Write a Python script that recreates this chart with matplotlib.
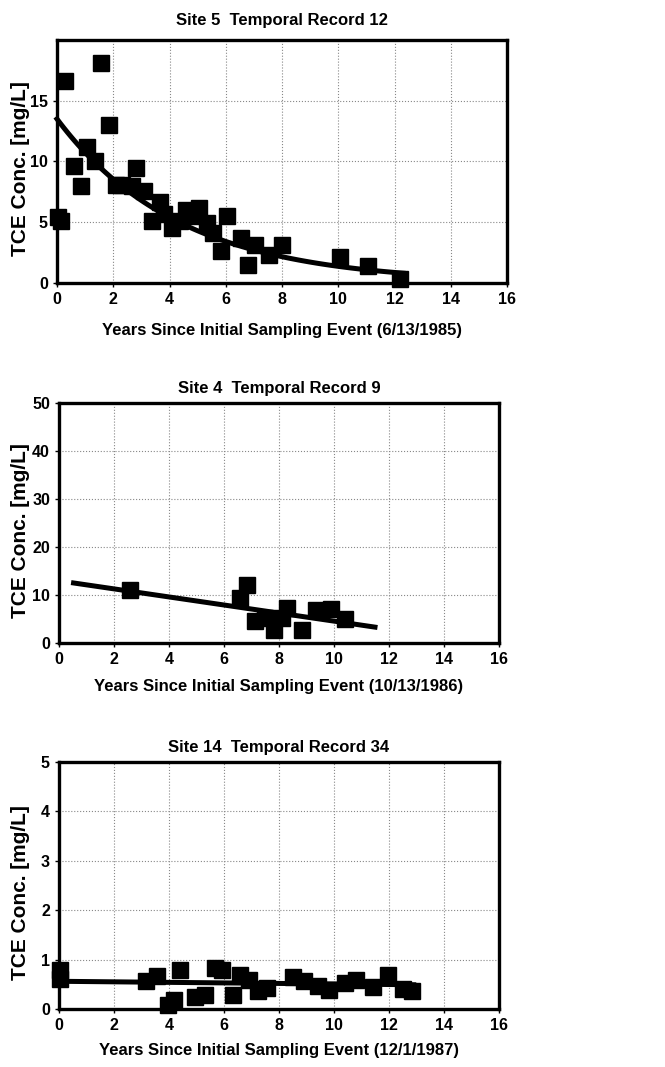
import numpy as np
import matplotlib
matplotlib.use('Agg')
import matplotlib.pyplot as plt

plt.rcParams['font.family'] = ['Liberation Sans', 'DejaVu Sans']
plt.rcParams['font.weight'] = 'bold'

# Site 5, record 12
years_5 = [0.04, 0.15, 0.27, 0.6, 0.87, 1.07, 1.34, 1.58, 1.84, 2.1, 2.3, 2.65,
           2.82, 3.08, 3.36, 3.65, 3.8, 4.1, 4.37, 4.6, 4.78, 5.05, 5.32, 5.55,
           5.82, 6.03, 6.53, 6.8, 7.04, 7.55, 8.0, 10.07, 11.07, 12.18]
conc_5 = [5.4, 5.1, 16.6, 9.6, 8.0, 11.2, 10.0, 18.1, 13.0, 8.1, 8.1, 8.0,
          9.5, 7.6, 5.1, 6.7, 5.7, 4.5, 5.1, 6.0, 5.5, 6.2, 4.9, 4.1,
          2.6, 5.5, 3.7, 1.5, 3.1, 2.3, 3.1, 2.1, 1.4, 0.3]
fit5_c0, fit5_k, fit5_end = 13.5, 0.229, 12.3

# Site 4, record 9
years_4 = [2.6, 6.59, 6.83, 7.13, 7.5, 7.8, 8.1, 8.3, 8.85, 9.35, 9.9, 10.4]
conc_4 = [11.0, 9.4, 12.0, 4.5, 5.2, 2.8, 5.2, 7.3, 2.8, 6.8, 7.1, 4.9]
fit4_x = [0.53, 11.49]
fit4_y = [12.5, 3.3]

# Site 14, record 34
years_14 = [0.02, 0.05, 3.16, 3.56, 3.98, 4.19, 4.4, 4.95, 5.31, 5.68, 5.92,
            6.31, 6.59, 6.92, 7.25, 7.58, 8.52, 8.91, 9.43, 9.83, 10.4, 10.8,
            11.43, 11.97, 12.52, 12.85]
conc_14 = [0.6, 0.78, 0.57, 0.66, 0.09, 0.19, 0.79, 0.24, 0.29, 0.83, 0.79,
           0.29, 0.69, 0.59, 0.36, 0.42, 0.65, 0.56, 0.46, 0.39, 0.52, 0.59,
           0.44, 0.69, 0.4, 0.36]
fit14_x = [0.0, 12.9]
fit14_y = [0.56, 0.49]

fig = plt.figure(figsize=(6.65, 10.67), dpi=100)


def style(ax, title, xlabel, ymax, yticks, tpad, xlab_y, ylab_x):
    ax.set_xlim(0, 16)
    ax.set_ylim(0, ymax)
    ax.set_xticks(range(0, 17, 2))
    ax.set_yticks(yticks)
    ax.grid(True, linestyle=':', color='#888888', linewidth=0.8)
    ax.set_axisbelow(True)
    for s in ax.spines.values():
        s.set_linewidth(2.4)
    ax.tick_params(direction='out', length=3, width=1, labelsize=11.5, pad=3.5)
    ax.set_title(title, fontsize=12, fontweight='bold', pad=tpad)
    ax.set_xlabel(xlabel, fontsize=12, fontweight='bold')
    ax.set_ylabel('TCE Conc. [mg/L]', fontsize=15, fontweight='bold')
    ax.xaxis.set_label_coords(0.5, xlab_y)
    ax.yaxis.set_label_coords(ylab_x, 0.47)


ax1 = fig.add_axes([0.0857, 0.7348, 0.677, 0.2277])
xf = np.linspace(0, fit5_end, 100)
ax1.plot(xf, fit5_c0 * np.exp(-fit5_k * xf), color='black', linewidth=3.6)
ax1.plot(years_5, conc_5, 's', color='black', markersize=12)
style(ax1, 'Site 5  Temporal Record 12',
      'Years Since Initial Sampling Event (6/13/1985)', 20, [0, 5, 10, 15],
      11, -0.165, -0.06)

ax2 = fig.add_axes([0.0887, 0.3974, 0.6617, 0.225])
ax2.plot(fit4_x, fit4_y, color='black', linewidth=3.6)
ax2.plot(years_4, conc_4, 's', color='black', markersize=12)
style(ax2, 'Site 4  Temporal Record 9',
      'Years Since Initial Sampling Event (10/13/1986)', 50, range(0, 51, 10),
      7, -0.15, -0.066)

ax3 = fig.add_axes([0.0887, 0.0544, 0.6617, 0.2315])
ax3.plot(fit14_x, fit14_y, color='black', linewidth=3.6)
ax3.plot(years_14, conc_14, 's', color='black', markersize=12)
style(ax3, 'Site 14  Temporal Record 34',
      'Years Since Initial Sampling Event (12/1/1987)', 5, range(0, 6),
      7, -0.138, -0.066)

for ax in (ax1, ax2, ax3):
    for ln in ax.lines:
        ln.set_clip_on(False)

fig.savefig('out.png', dpi=100)
